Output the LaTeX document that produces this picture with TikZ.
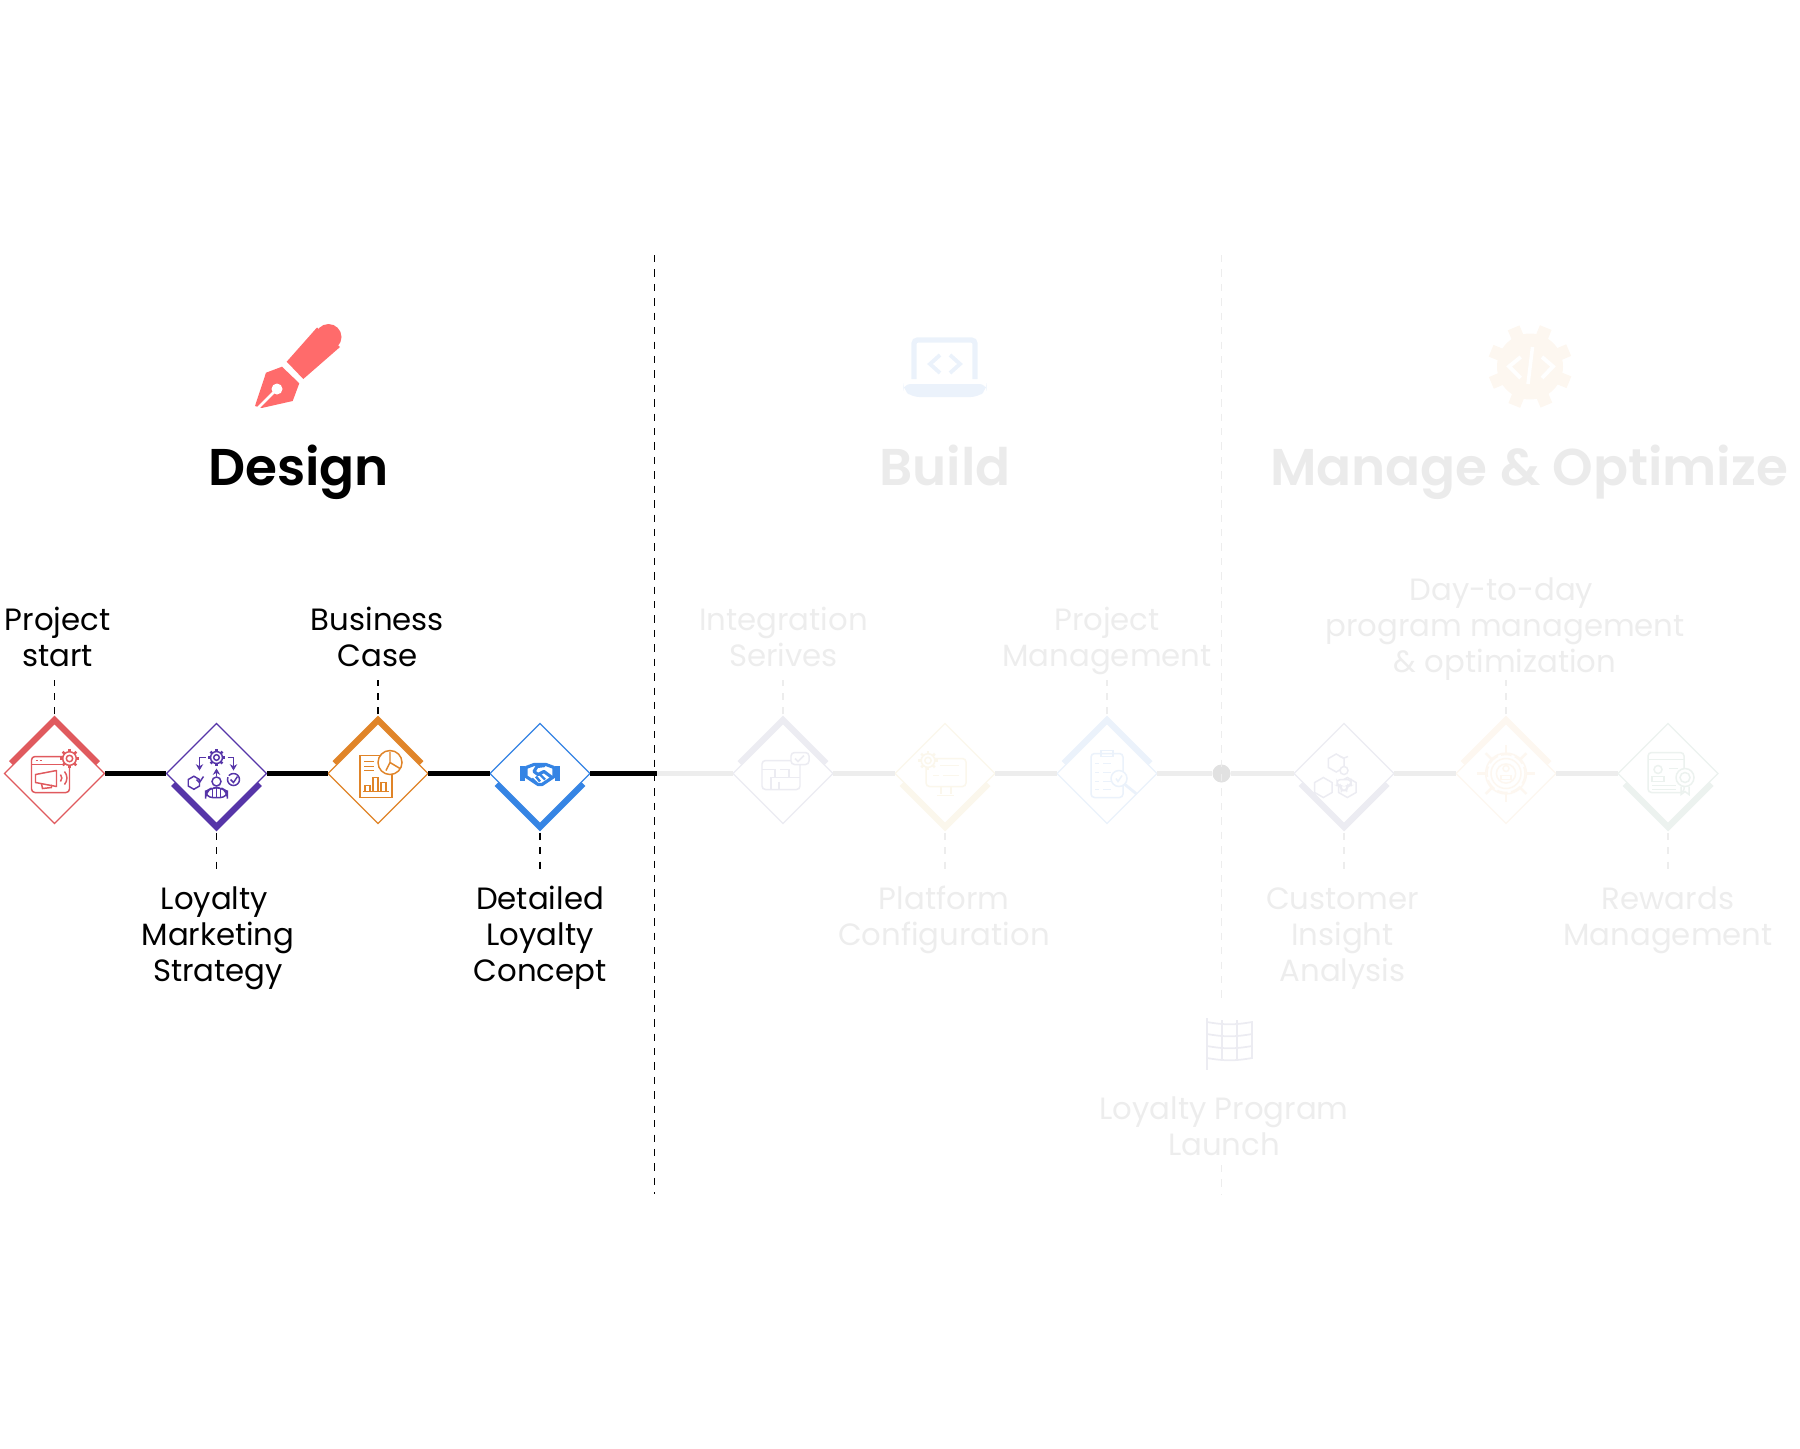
\documentclass[tikz,border=0pt]{standalone}
\usepackage{fontspec}
\usepackage{xcolor}
\setmainfont{Poppins}
\newfontfamily\headfont{Poppins SemiBold}
\usetikzlibrary{arrows.meta,shapes.geometric,backgrounds}
\definecolor{cred}{HTML}{E05A5E}
\definecolor{cpurple}{HTML}{5635A8}
\definecolor{corange}{HTML}{E08428}
\definecolor{cblue}{HTML}{3584E4}
\definecolor{cpen}{HTML}{FF6B6B}
\definecolor{pgrey}{HTML}{ECECF2}
\definecolor{pyellow}{HTML}{FBF7EC}
\definecolor{pblue}{HTML}{EBF2FB}
\definecolor{ppeach}{HTML}{FDF7F0}
\definecolor{pgreen}{HTML}{ECF2EF}
\definecolor{ptext}{HTML}{EDEDED}
\definecolor{phead}{HTML}{EBEBEB}
\newcommand{\cog}[3]{
\foreach \a in {0,45,...,315}{\draw[line width=0.7pt,line cap=butt] (#1,#2)++(\a:#3*0.8)--++(\a:#3*0.4);}
\draw[fill=white] (#1,#2) circle (#3*0.85);
\draw (#1,#2) circle (#3*0.4);
}
\newcommand{\hexa}[3]{
\draw[fill=white] (#1,#2)++(90:#3)--++(150:#3)--++(210:#3)--++(270:#3)--++(330:#3)--++(30:#3)--cycle;
}
\newcommand{\iconpromo}{
\draw[rounded corners=1pt] (-23,-17) rectangle (15,19);
\draw (-23,-9)--(8,-9);
\draw (-19,-13)--(-17,-13) (-15,-13)--(-13,-13);
\cog{15}{-15}{8}
\draw[line join=round] (-19,1)--(2,-3)--(2,13)--(-19,9)--cycle;
\draw (-13,10)--(-12,15)--(-3,14)--(-3,11);
\draw (6,1) to[bend left=40] (6,8);
\draw (10,-2) to[bend left=40] (10,11);
}
\newcommand{\iconpeople}{
\cog{0}{-16}{7}
\draw[-{Stealth[length=1.8pt,width=2.1pt]}] (-11,-16)--(-17,-16)--(-17,-3);
\draw[-{Stealth[length=1.8pt,width=2.1pt]}] (11,-16)--(17,-16)--(17,-3);
\draw[-{Stealth[length=1.8pt,width=2.1pt]}] (0,2)--(0,-5);
\hexa{-17}{6}{6.5}
\draw[dash pattern=on 6pt off 0.5pt] (17,6) circle (6);
\draw (-20,6)--(-17,9)--(-13,3) (14,6)--(17,9)--(21,3);
\draw (0,8) circle (4.5);
\draw[rounded corners=2pt] (-11,24)--(-11,18)--(-4,14)--(4,14)--(11,18)--(11,24)--cycle;
\draw (-4,14)--(-4,24) (4,14)--(4,24) (0,14)--(0,24);
}
\newcommand{\iconreport}{
\draw (-18,-18) rectangle (14,24);
\draw (-14,-12)--(-4,-12) (-14,-7)--(-4,-7) (-14,-3)--(-4,-3);
\draw[fill=white] (12,-11) circle (12);
\draw (12,-22)--(12,-11)--(22,-5) (12,-11)--(8,-3);
\draw (-13,18)--(-13,12)--(-8,12)--(-8,18) (-5,18)--(-5,4)--(0,4)--(0,18) (3,18)--(3,9)--(8,9)--(8,18);
\draw (-15,18)--(11,18);
}
\newcommand{\iconshake}{
\fill (-20,-8) rectangle (-15,7);
\fill (15,-8) rectangle (20,7);
\draw[line width=0.9pt,line join=round] (-14,-6)--(-6,-9)--(6,-9)--(14,-6)--(14,3)--(2,11)--(-2,11)--(-14,3)--cycle;
\draw[line width=0.9pt,line join=round] (5,-8)--(-3,-7)--(-6,-2)--(-2,1)--(4,-2)--(12,4);
\draw[line width=0.7pt] (-8,5)--(-4,9) (-4,3)--(0,8) (0,1)--(5,6);
}
\newcommand{\iconbricks}{
\draw[rounded corners=1pt] (-21,-13) rectangle (17,16);
\draw[fill=white,rounded corners=1pt] (8,-21) rectangle (26,-9);
\draw (12,-15)--(15,-12)--(21,-18);
\draw (-21,-4)--(-8,-4)--(-8,4)--(6,4)--(6,-4)--(-3,-4) (-8,4)--(-12,4)--(-12,16) (6,4)--(17,4) (-4,8)--(-4,16);
}
\newcommand{\iconscreen}{
\draw[rounded corners=1pt] (-19,-15) rectangle (21,13);
\draw (-4,13)--(-4,20) (6,13)--(6,20) (-8,22)--(9,22);
\draw (-5,-8)--(14,-8) (-12,2)--(-6,2) (-2,2)--(14,2);
\cog{-17}{-13}{8}
}
\newcommand{\iconclip}{
\draw[rounded corners=1pt] (-16,-20) rectangle (16,24);
\draw (-6,-23) rectangle (6,-17);
\foreach \b in {-10,-1,8,16}{\draw (-12,\b)--(-8,\b) (-4,\b)--(4,\b);}
\draw[fill=white] (12,5) circle (8);
\draw (9,5)--(11,8)--(15,2);
\draw[line width=0.8pt] (18,11)--(29,20);
}
\newcommand{\iconhexes}{
\hexa{0}{-15}{9}
\hexa{-12}{9}{10}
\hexa{12}{9}{10}
\draw[fill=white] (0,-3) circle (4);
\draw[fill=white,rounded corners=1pt] (-7,12)--(-7,6)--(7,6)--(7,12)--(3,12)--(3,17)--(-3,17)--(-3,12)--cycle;
\draw (-4,-17) to[bend right=40] (4,-17);
}
\newcommand{\iconwheel}{
\cog{0}{0}{24}
\draw (0,0) circle (15);
\draw (0,-5) circle (3);
\draw (-5,6) rectangle (5,2);
\draw[dash pattern=on 3pt off 1pt] (0,0) circle (19);
}
\newcommand{\iconcert}{
\draw[rounded corners=1pt] (-20,-21) rectangle (16,19);
\draw (-20,-14)--(16,-14);
\draw (-10,-4) circle (4);
\draw (-16,8)--(-16,3)--(-4,3)--(-4,8)--cycle;
\draw (1,-5)--(10,-5) (-16,12)--(8,12) (-16,16)--(8,16);
\draw[fill=white] (17,4) circle (9);
\draw (17,4) circle (5);
\draw (13,13)--(13,21)--(17,18)--(21,21)--(21,13);
}
\tikzset{
ms/.style={diamond,draw=#1,fill=white,line width=0.35pt,minimum size=1cm,inner sep=0pt,outer sep=0pt,aspect=1},
capbar/.style={line width=2pt,draw=#1,line cap=butt,miter limit=10},
mainline/.style={line width=1.15pt,line cap=butt},
paleline/.style={line width=1.15pt,line cap=butt,draw=ptext},
lead/.style={line width=0.45pt,dash pattern=on 2.1pt off 2pt,shorten <=2.6pt},
icon/.style={shift={(#1.center)},line width=0.42pt},
lab/.style={align=center,inner sep=0pt,font=\fontsize{8.75}{10.2}\selectfont},
headlab/.style={anchor=base,inner sep=0pt,font=\fontsize{14.7}{18}\selectfont\headfont}
}
\begin{document}
\begin{tikzpicture}[x=0.01cm,y=-0.01cm,=>stealth]
\useasboundingbox (0,0) rectangle (1800,1448);

\node[ms=cred] (d1) at (54.5,773.5) {};
\node[ms=cpurple] (d2) at (216.5,773.5) {};
\node[ms=corange] (d3) at (378,773.5) {};
\node[ms=cblue] (d4) at (540,773.5) {};
\node[ms=pgrey] (d5) at (783,773.5) {};
\node[ms=pyellow] (d6) at (945,773.5) {};
\node[ms=pblue] (d7) at (1107,773.5) {};
\node[ms=pgrey] (d8) at (1344,773.5) {};
\node[ms=ppeach] (d9) at (1506,773.5) {};
\node[ms=pgreen] (d10) at (1668,773.5) {};
\node[circle,fill=ptext!95!black,inner sep=0pt,minimum size=0.18cm] (launch) at (1221.5,773.5) {};

\begin{scope}[on background layer]
\draw[capbar=cred] (d1.center)++(-43,-10)--++(43,-43)--++(43,43);
\draw[capbar=corange] (d3.center)++(-43,-10)--++(43,-43)--++(43,43);
\draw[capbar=pgrey] (d5.center)++(-43,-10)--++(43,-43)--++(43,43);
\draw[capbar=pblue] (d7.center)++(-43,-10)--++(43,-43)--++(43,43);
\draw[capbar=ppeach] (d9.center)++(-43,-10)--++(43,-43)--++(43,43);
\draw[capbar=cpurple] (d2.center)++(-43,10)--++(43,43)--++(43,-43);
\draw[capbar=cblue] (d4.center)++(-43,10)--++(43,43)--++(43,-43);
\draw[capbar=pyellow] (d6.center)++(-43,10)--++(43,43)--++(43,-43);
\draw[capbar=pgrey] (d8.center)++(-43,10)--++(43,43)--++(43,-43);
\draw[capbar=pgreen] (d10.center)++(-43,10)--++(43,43)--++(43,-43);
\end{scope}

\coordinate (split) at (656.5,773.5);
\draw[mainline] (d1.east)--(d2.west);
\draw[mainline] (d2.east)--(d3.west);
\draw[mainline] (d3.east)--(d4.west);
\draw[mainline] (d4.east)--(split);
\draw[paleline] (split)--(d5.west);
\draw[paleline] (d5.east)--(d6.west);
\draw[paleline] (d6.east)--(d7.west);
\draw[paleline] (d7.east)--(launch.west);
\draw[paleline] (launch.east)--(d8.west);
\draw[paleline] (d8.east)--(d9.west);
\draw[paleline] (d9.east)--(d10.west);

\coordinate (t1) at (54.5,680);
\coordinate (t3) at (378,680);
\coordinate (t5) at (783,680);
\coordinate (t7) at (1107,680);
\coordinate (t9) at (1506,680);
\coordinate (b2) at (216.5,870);
\coordinate (b4) at (540,870);
\coordinate (b6) at (945,870);
\coordinate (b8) at (1344,870);
\coordinate (b10) at (1668,870);
\draw[lead] (d1.north)--(t1);
\draw[lead] (d3.north)--(t3);
\draw[lead,draw=ptext] (d5.north)--(t5);
\draw[lead,draw=ptext] (d7.north)--(t7);
\draw[lead,draw=ptext] (d9.north)--(t9);
\draw[lead] (d2.south)--(b2);
\draw[lead] (d4.south)--(b4);
\draw[lead,draw=ptext] (d6.south)--(b6);
\draw[lead,draw=ptext] (d8.south)--(b8);
\draw[lead,draw=ptext] (d10.south)--(b10);

\coordinate (sa) at (654.5,255);
\coordinate (sb) at (654.5,1194);
\draw[line width=0.45pt,dash pattern=on 2.1pt off 2pt] (sa)--(sb);
\coordinate (sc) at (1221.5,255);
\coordinate (sd) at (1221.5,1000);
\coordinate (se) at (1221.5,1165);
\coordinate (sf) at (1221.5,1194);
\draw[draw=ptext,line width=0.45pt,dash pattern=on 2.1pt off 2pt] (sc)--(sd);
\draw[draw=ptext,line width=0.45pt,dash pattern=on 2.1pt off 2pt] (se)--(sf);

\begin{scope}[icon=d1,color=cred]\iconpromo\end{scope}
\begin{scope}[icon=d2,color=cpurple]\iconpeople\end{scope}
\begin{scope}[icon=d3,color=corange]\iconreport\end{scope}
\begin{scope}[icon=d4,color=cblue]\iconshake\end{scope}
\begin{scope}[icon=d5,color=pgrey]\iconbricks\end{scope}
\begin{scope}[icon=d6,color=pyellow]\iconscreen\end{scope}
\begin{scope}[icon=d7,color=pblue]\iconclip\end{scope}
\begin{scope}[icon=d8,color=pgrey]\iconhexes\end{scope}
\begin{scope}[icon=d9,color=ppeach]\iconwheel\end{scope}
\begin{scope}[icon=d10,color=pgreen]\iconcert\end{scope}

\fill[cpen] (286.7,361.7)--(317,327.5)--(340,347)--(303.3,379)--cycle;
\fill[cpen] (328.5,337) circle (13);
\fill[cpen] (266,372.7)--(282,366.7)--(299.3,383.3)--(292.7,401)--(261.7,408)--(255,406)--cycle;
\draw[white,line width=0.75pt] (258,408)--(277,389);
\fill[white] (277,389) circle (5.5);

\fill[pblue,rounded corners=2pt] (903.4,384)--(986.5,384)--(986.5,390)--(978,397)--(912,397)--(903.4,390)--cycle;
\draw[pblue,line width=1.5pt,rounded corners=1pt] (914,379)--(914,340)--(975,340)--(975,379);
\draw[pblue,line width=1.1pt] (940,355)--(930,364)--(940,373) (950,355)--(960,364)--(950,373);

\foreach \a in {0,45,...,315}{\draw[ppeach,line width=3.6pt,line cap=butt] (1530,366.5)++(\a+22:28)--++(\a+22:14);}
\fill[ppeach] (1530,366.5) circle (33);
\draw[white,line width=1.1pt] (1520.7,357)--(1509,366.5)--(1520.7,378) (1542,357)--(1553,366.5)--(1542,378);
\draw[white,line width=1pt] (1532.5,347)--(1528,384);

\draw[pgrey,line width=0.8pt] (1207,1018)--(1207,1070);
\draw[pgrey,line width=0.5pt] (1207,1022) to[out=-10,in=190] (1252,1022)--(1252,1058) to[out=190,in=-10] (1207,1058);
\draw[pgrey,line width=0.5pt] (1207,1034) to[out=-10,in=190] (1252,1034) (1207,1046) to[out=-10,in=190] (1252,1046);
\draw[pgrey,line width=0.5pt] (1222,1020)--(1222,1060) (1237,1020)--(1237,1060);

\node[headlab] (design) at (298.5,485) {Design};
\node[headlab,text=phead] (build) at (945,485) {Build};
\node[headlab,text=phead] (manage) at (1529,485) {Manage \& Optimize};

\node[lab] (l1) at (57.5,637) {Project\\start};
\node[lab] (l3) at (377.5,637) {Business\\Case};
\node[lab,text=ptext] (l5) at (783.5,637) {Integration\\Serives};
\node[lab,text=ptext] (l7) at (1107,641) {Project\\Management};
\node[lab,text=ptext] (l9) at (1505,629) {Day-to-day\hspace*{2pt}\\program management\\\& optimization};
\node[lab] (l2) at (218,938) {Loyalty\hspace*{2pt}\\Marketing\\Strategy};
\node[lab] (l4) at (540,938) {Detailed\\Loyalty\\Concept};
\node[lab,text=ptext] (l6) at (944,920) {Platform\\Configuration};
\node[lab,text=ptext] (l8) at (1342.5,938.5) {Customer\\Insight\\Analysis};
\node[lab,text=ptext] (l10) at (1668,920) {Rewards\\Management};
\node[lab,text=ptext] (l11) at (1224,1126) {Loyalty Program\\Launch};
\end{tikzpicture}
\end{document}
